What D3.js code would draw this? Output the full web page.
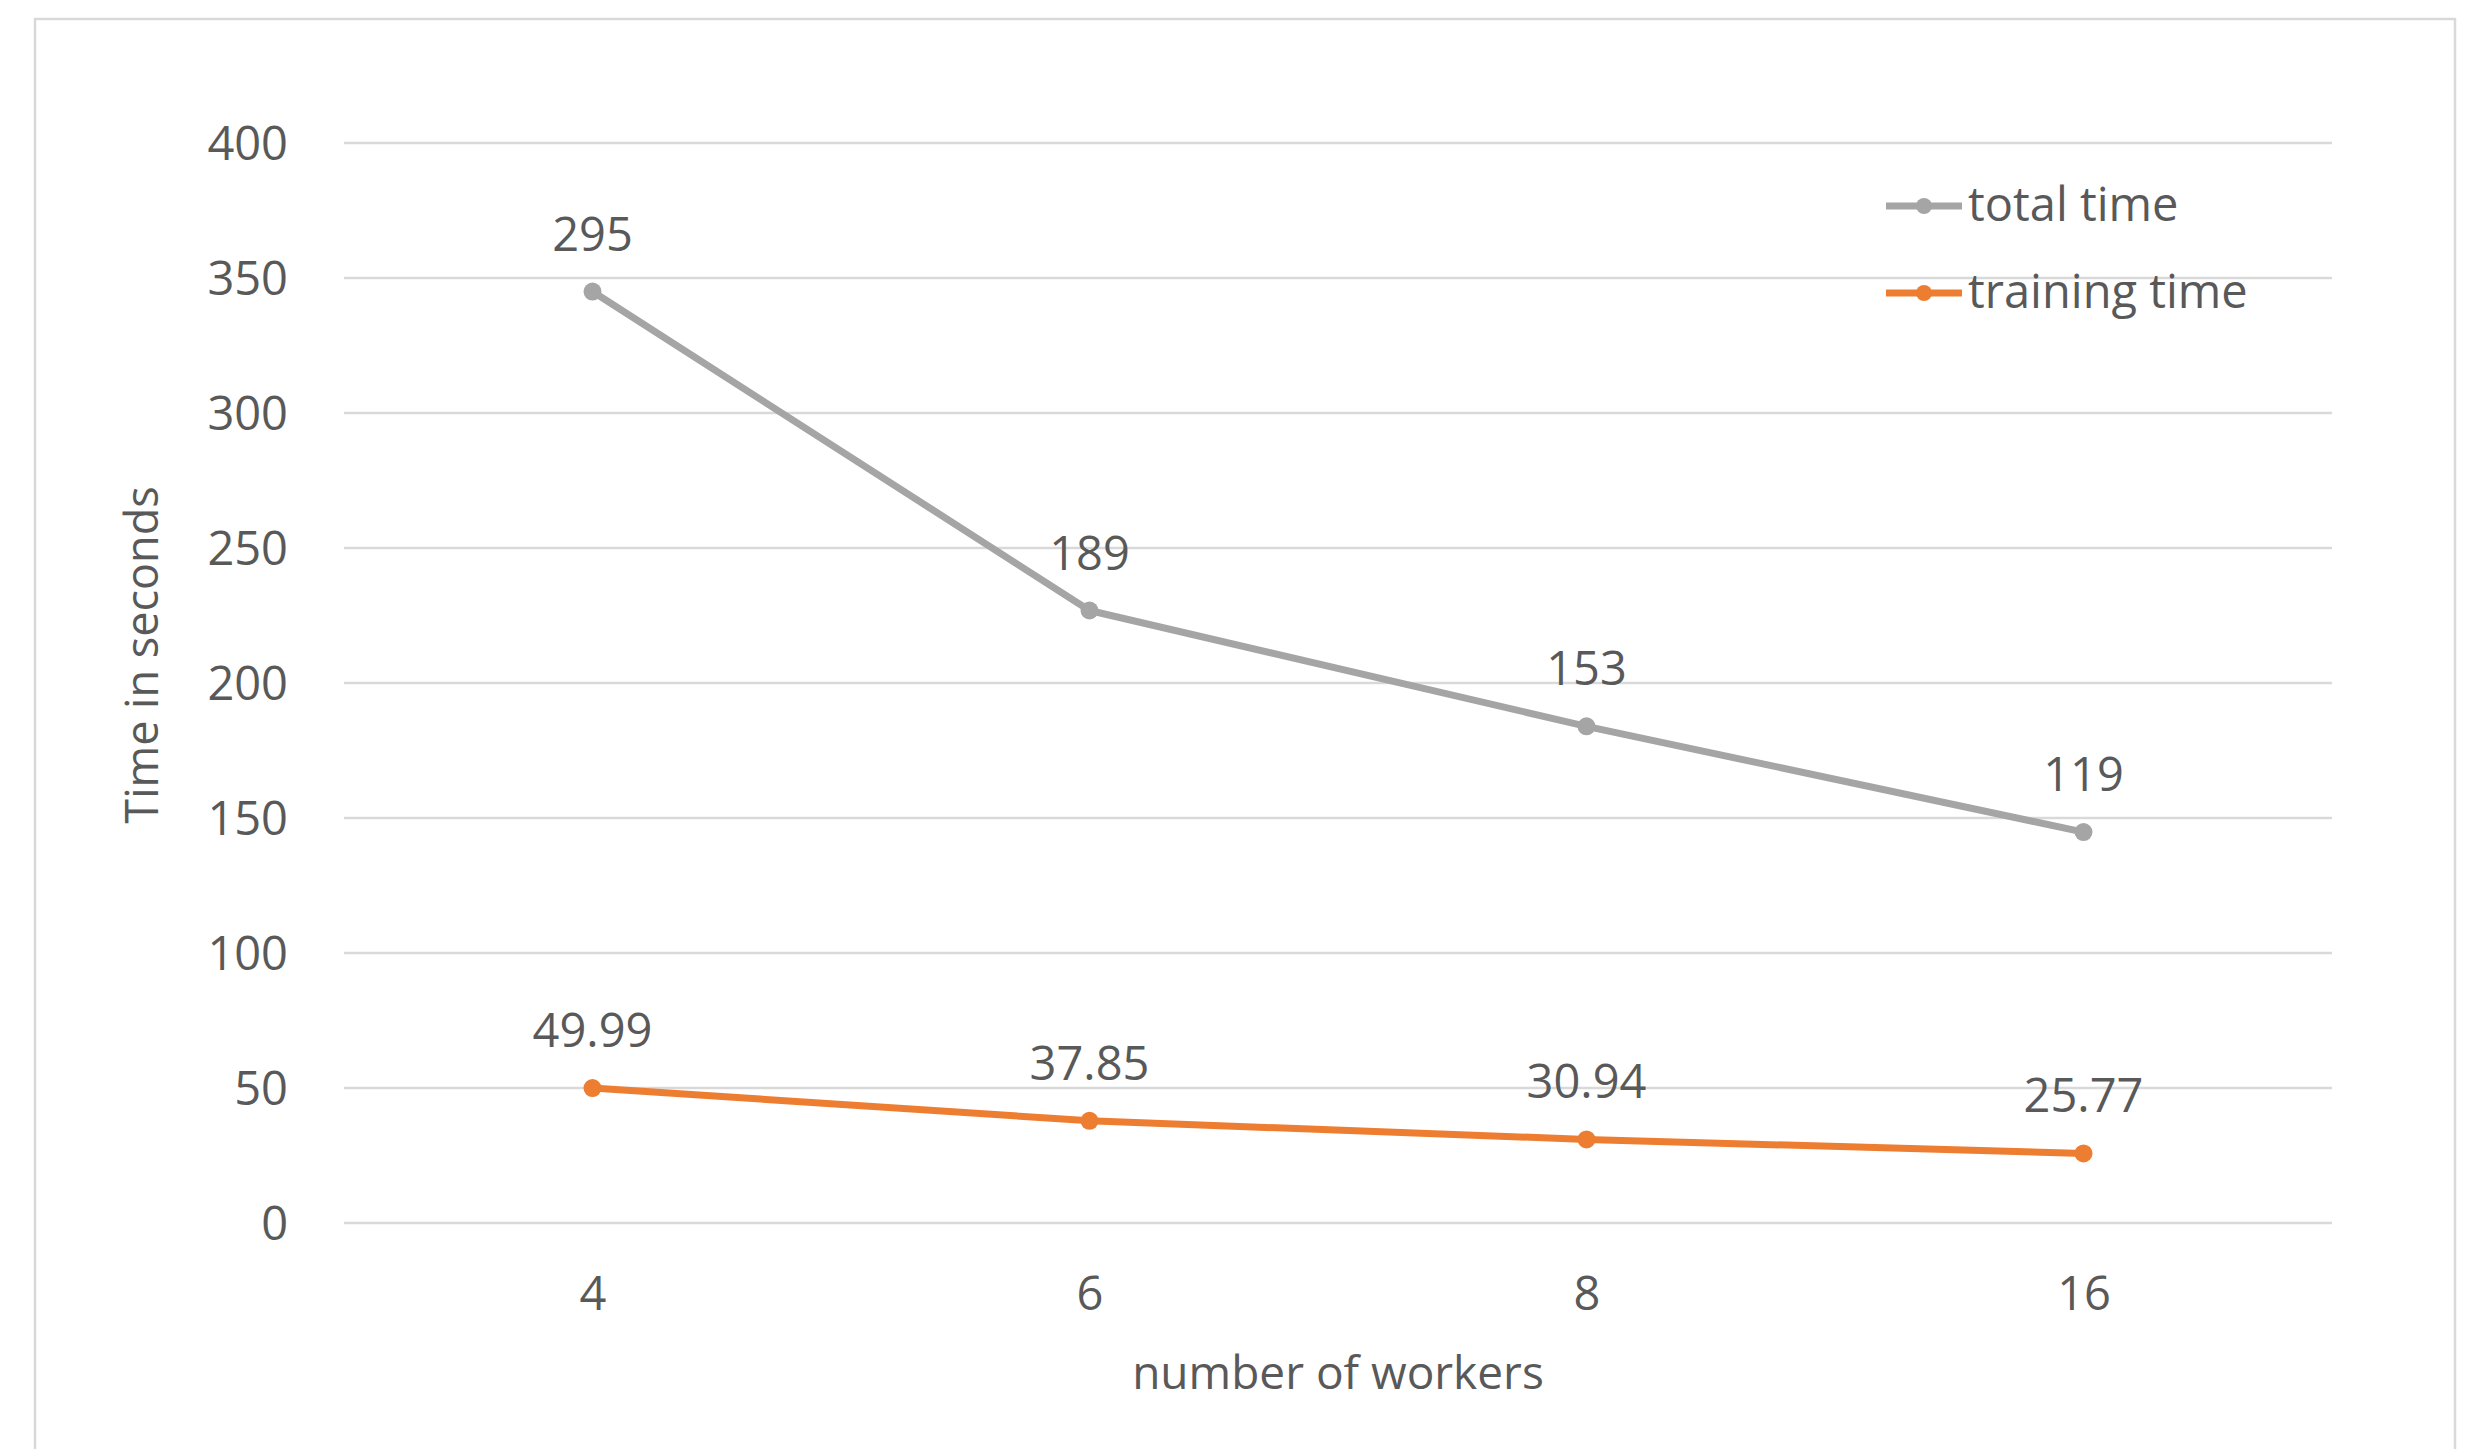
<html>
<head>
<script src="https://d3js.org/d3.v7.min.js"></script>
<style>
  body { margin: 0; background: #fff; }
  text { font-family: "Open Sans", "DejaVu Sans", sans-serif; fill: #595959; }
</style>
</head>
<body>
<svg id="vis"></svg>
<script>
// chart values
const workers = ['4', '6', '8', '16'];
const totalTime = [295, 189, 153, 119];
const trainingTime = [49.99, 37.85, 30.94, 25.77];
const yTicks = [0, 50, 100, 150, 200, 250, 300, 350, 400];
const seriesNames = ['total time', 'training time'];

const width = 2487, height = 1449;
const plotLeft = 344, plotRight = 2332, plotTop = 143, plotBottom = 1223;
const fontSize = 47;

const svg = d3.select('#vis')
  .attr('width', width)
  .attr('height', height);

// outer chart frame
svg.append('rect')
  .attr('x', 35).attr('y', 19)
  .attr('width', 2420).attr('height', 1500)
  .attr('fill', 'none')
  .attr('stroke', '#d9d9d9')
  .attr('stroke-width', 2.5);

// stacked lines: training at the bottom, total on top of it
const rows = workers.map((w, i) => ({ w: w, training: trainingTime[i], total: totalTime[i] }));
const stacked = d3.stack().keys(['training', 'total'])(rows);

const x = d3.scalePoint()
  .domain(workers)
  .range([plotLeft, plotRight])
  .padding(0.5);

const y = d3.scaleLinear()
  .domain([0, 400])
  .range([plotBottom, plotTop]);

// gridlines
svg.append('g').selectAll('line')
  .data(yTicks)
  .join('line')
  .attr('x1', plotLeft).attr('x2', plotRight)
  .attr('y1', d => y(d)).attr('y2', d => y(d))
  .attr('stroke', '#d9d9d9')
  .attr('stroke-width', 2.5);

// y axis labels
const yAxis = svg.append('g')
  .attr('transform', `translate(${plotLeft - 56},0)`)
  .call(d3.axisLeft(y).tickValues(yTicks).tickSize(0).tickPadding(0));
yAxis.select('.domain').remove();
yAxis.selectAll('text')
  .attr('font-size', fontSize)
  .attr('font-family', null)
  .attr('dy', '0.36em');

// x axis labels
const xAxis = svg.append('g')
  .attr('transform', `translate(0,${plotBottom})`)
  .call(d3.axisBottom(x).tickSize(0).tickPadding(0));
xAxis.select('.domain').remove();
xAxis.selectAll('text')
  .attr('font-size', fontSize)
  .attr('font-family', null)
  .attr('dy', null)
  .attr('y', 87);

// axis titles
svg.append('text')
  .attr('x', (plotLeft + plotRight) / 2)
  .attr('y', 1389)
  .attr('text-anchor', 'middle')
  .attr('font-size', 46)
  .text('number of workers');

svg.append('text')
  .attr('transform', 'translate(158,655) rotate(-90)')
  .attr('text-anchor', 'middle')
  .attr('font-size', 45)
  .text('Time in seconds');

const colors = { total: '#a5a5a5', training: '#ed7d31' };
const labels = { total: totalTime, training: trainingTime };

const line = d3.line()
  .x(d => x(d.data.w))
  .y(d => y(d[1]));

// draw total first so training sits on top
['total', 'training'].forEach(key => {
  const s = stacked.find(t => t.key === key);
  const g = svg.append('g');
  g.append('path')
    .datum(s)
    .attr('d', line)
    .attr('fill', 'none')
    .attr('stroke', colors[key])
    .attr('stroke-width', 7)
    .attr('stroke-linejoin', 'round');
  g.selectAll('circle')
    .data(s)
    .join('circle')
    .attr('cx', d => x(d.data.w))
    .attr('cy', d => y(d[1]))
    .attr('r', 9)
    .attr('fill', colors[key]);
  g.selectAll('text')
    .data(s)
    .join('text')
    .attr('x', d => x(d.data.w))
    .attr('y', d => y(d[1]) - 41)
    .attr('text-anchor', 'middle')
    .attr('font-size', fontSize)
    .text((d, i) => labels[key][i]);
});

// legend
const legend = svg.append('g');
seriesNames.forEach((name, i) => {
  const c = i === 0 ? colors.total : colors.training;
  const ly = 206 + i * 87;
  legend.append('line')
    .attr('x1', 1886).attr('x2', 1962)
    .attr('y1', ly).attr('y2', ly)
    .attr('stroke', c)
    .attr('stroke-width', 7);
  legend.append('circle')
    .attr('cx', 1924).attr('cy', ly)
    .attr('r', 8)
    .attr('fill', c);
  legend.append('text')
    .attr('x', 1968)
    .attr('y', ly + 15)
    .attr('font-size', fontSize)
    .text(name);
});
</script>
</body>
</html>
